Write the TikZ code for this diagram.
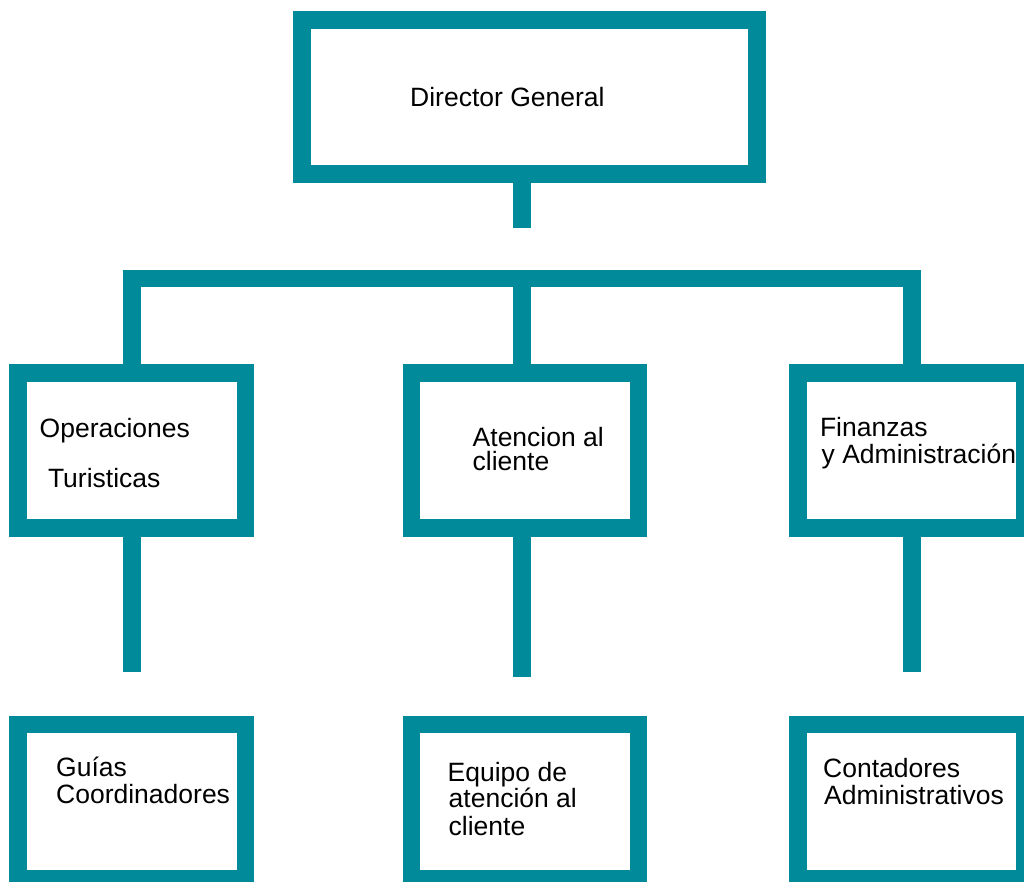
\documentclass[tikz,border=0pt]{standalone}
\usepackage{fontspec}
\setmainfont{Liberation Sans}
\definecolor{tealc}{HTML}{008A9A}
\begin{document}
\begin{tikzpicture}[x=1pt,y=-1pt,
  orgbox/.style={draw=tealc,line width=17.5pt,rectangle,inner sep=0pt,
    minimum width=227.5pt,minimum height=155pt,fill=white},
  conn/.style={draw=tealc,line width=17.5pt,line cap=butt,line join=miter},
  lbl/.style={anchor=base west,inner sep=0pt,font=\fontsize{26.5}{26.5}\selectfont}]
\useasboundingbox (0,0) rectangle (1024,881);
\clip (0,0) rectangle (1024,881);
% boxes
\node[orgbox,minimum width=454.6pt,minimum height=154.4pt] (top) at (529.5,97) {};
\node[orgbox] (L) at (131.8,450.5) {};
\node[orgbox,minimum width=227pt] (M) at (525,450.5) {};
\node[orgbox,minimum width=227pt] (R) at (911.5,450.5) {};
\node[orgbox,minimum height=154.25pt] (BL) at (131.8,801.6) {};
\node[orgbox,minimum width=227pt,minimum height=154.25pt] (BM) at (525,801.6) {};
\node[orgbox,minimum width=227pt,minimum height=154.25pt] (BR) at (911.5,801.6) {};
% coordinates
\coordinate (cx) at (521.75,0);
\coordinate (topend) at (521.75,227.7);
\coordinate (bus) at (0,278.7);
\coordinate (ldn) at (132,671.7);
\coordinate (mdn) at (521.75,677);
\coordinate (rdn) at (912,671.7);
% connectors
\draw[conn] (top.south -| cx) -- (topend);
\draw[conn] (L.north -| ldn) -- (bus -| ldn) -- (bus -| rdn) -- (R.north -| rdn);
\draw[conn] (bus -| cx) -- (M.north -| cx);
\draw[conn] (L.south -| ldn) -- (ldn);
\draw[conn] (M.south -| mdn) -- (mdn);
\draw[conn] (R.south -| rdn) -- (rdn);
% labels
\node[lbl] (t0) at (410,106) {Director General};
\node[lbl] (t1a) at (39.5,437.3) {Operaciones};
\node[lbl] (t1b) at (47.8,487.3) {Turisticas};
\node[lbl] (t2a) at (472.5,446) {Atencion al};
\node[lbl] (t2b) at (472.5,470.7) {cliente};
\node[lbl] (t3a) at (819.8,436.7) {Finanzas};
\node[lbl] (t3b) at (821.5,463.3) {y Administración};
\node[lbl] (t4a) at (56,776.7) {Guías};
\node[lbl] (t4b) at (56,803.3) {Coordinadores};
\node[lbl] (t5a) at (447.5,781.7) {Equipo de};
\node[lbl] (t5b) at (448.5,807.7) {atención al};
\node[lbl] (t5c) at (448.5,835) {cliente};
\node[lbl] (t6a) at (823,777.7) {Contadores};
\node[lbl] (t6b) at (824,804) {Administrativos};
\end{tikzpicture}
\end{document}
